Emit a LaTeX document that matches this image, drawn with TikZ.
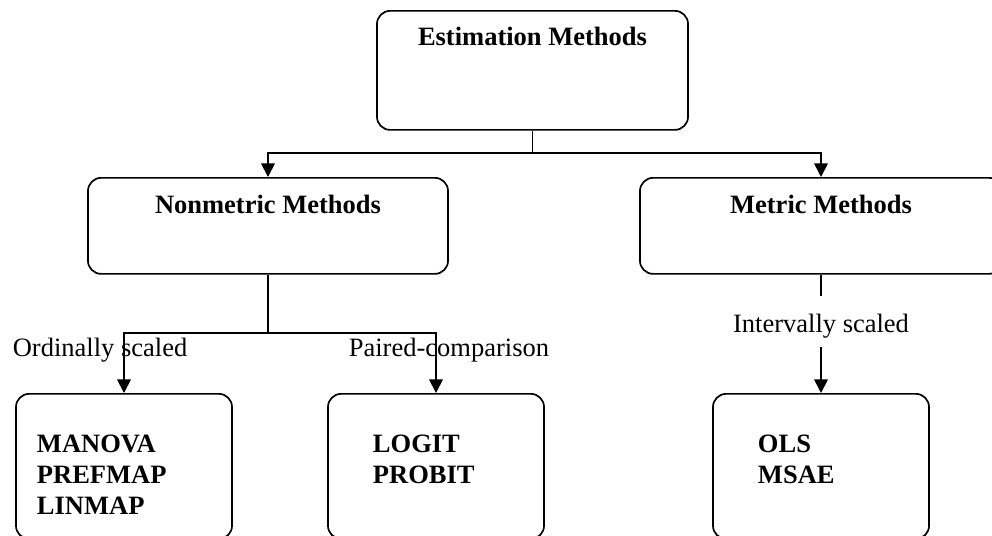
\documentclass[tikz,border=0pt]{standalone}
\usepackage{fontspec}
\setmainfont{Liberation Serif}
\usetikzlibrary{arrows.meta}

\begin{document}
\begin{tikzpicture}[x=0.025cm, y=-0.025cm, line width=1.2pt,
    box/.style={draw, rounded corners=0.33cm, inner sep=0pt,
        font=\fontsize{18.85pt}{22pt}\selectfont\bfseries},
    lab/.style={inner sep=0pt, font=\fontsize{18.85pt}{22pt}\selectfont},
    arr/.style={-{Triangle[length=0.34cm,width=0.34cm]}}]

% Frame of the picture
\useasboundingbox (0,0) rectangle (992,535);
\clip (0,0) rectangle (992,535);

% Top box
\node[box, anchor=north, minimum width=7.775cm,
    text height=0.875cm, text depth=2.1cm] (est) at (532.5,10)
    {Estimation Methods};

% Second level
\node[box, anchor=north, minimum width=9cm,
    text height=0.9cm, text depth=1.5cm] (nonmet) at (268,177)
    {Nonmetric Methods};

\node[box, anchor=north, minimum width=9.05cm,
    text height=0.9cm, text depth=1.5cm] (met) at (821,177)
    {Metric Methods};

% Bottom boxes
\node[box, anchor=north, align=left, text width=4.35cm, inner xsep=0.525cm,
    text height=1.475cm, text depth=2.15cm] (manova) at (124,393)
    {MANOVA\\PREFMAP\\LINMAP};

\node[box, anchor=north, align=left, text width=3.15cm, inner xsep=1.125cm,
    text height=1.475cm, text depth=2.15cm] (logit) at (436,393)
    {LOGIT\\PROBIT};

\node[box, anchor=north, align=left, text width=3.15cm, inner xsep=1.125cm,
    text height=1.475cm, text depth=2.15cm] (ols) at (821,393)
    {OLS\\MSAE};

% Branch labels
\node[lab, anchor=base west] (ordlab) at (12,356) {Ordinally scaled};
\node[lab, anchor=base west] (pairlab) at (348,356) {Paired-comparison};
\node[lab, anchor=base, text height=0.875cm, text depth=0.35cm]
    (intlab) at (821,332) {Intervally scaled};

% Connectors
\coordinate (split) at (532.5,153);
\coordinate (fork) at (268,333);

\draw (est) -- (split);
\draw[arr] (split) -| (nonmet);
\draw[arr] (split) -| (met);

\draw (nonmet) -- (fork);
\draw[arr] (fork) -| (manova);
\draw[arr] (fork) -| (logit);

\draw (met) -- (intlab);
\draw[arr] (intlab) -- (ols);

\end{tikzpicture}
\end{document}
